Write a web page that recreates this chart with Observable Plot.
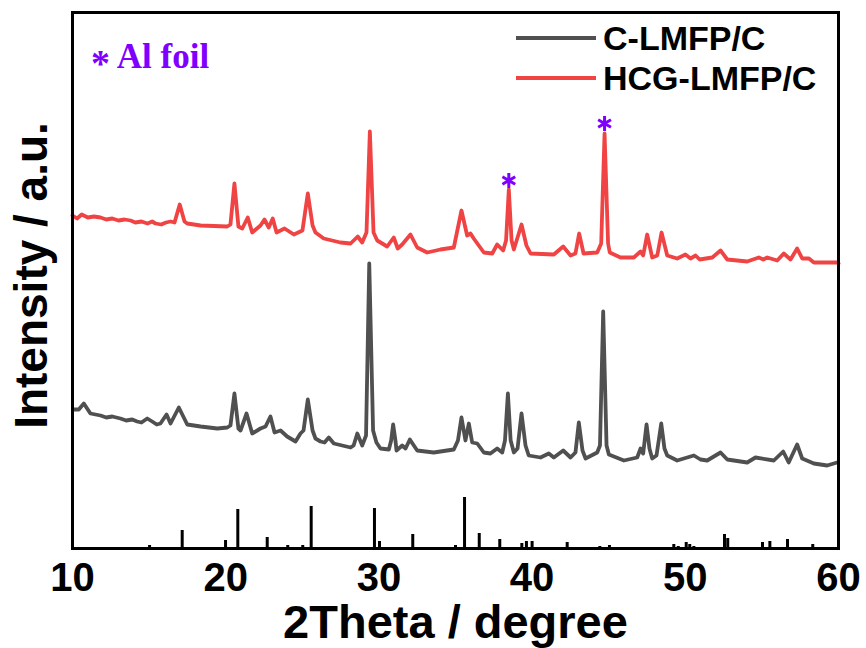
<!DOCTYPE html>
<html>
<head>
<meta charset="utf-8">
<script src="https://cdn.jsdelivr.net/npm/d3@7"></script>
<script src="https://cdn.jsdelivr.net/npm/@observablehq/plot@0.6"></script>
<style>
  html, body { margin: 0; padding: 0; background: #fff; }
  #wrap { position: relative; width: 866px; height: 648px; }
  .ov { position: absolute; white-space: nowrap; }
  .leg { font-family: "Liberation Sans", Arial, sans-serif; font-weight: bold; font-size: 34px; color: #000; line-height: 1; }
  .swatch { position: absolute; height: 4px; width: 80px; }
  .al { font-family: "Liberation Serif", "Times New Roman", serif; font-weight: bold; font-size: 35px; color: #8000ff; line-height: 1; }
</style>
</head>
<body>
<div id="wrap"></div>
<script>
// Series names
const seriesNames = ["C-LMFP/C", "HCG-LMFP/C"];
const seriesColors = ["#505050", "#f04343"];

// C-LMFP/C pattern: 2theta (deg) and intensity (a.u.)
const grayX = [10.05,10.41,10.74,11.17,11.83,12.2,12.6,13.13,13.5,13.9,14.22,14.5,14.88,15.2,15.5,15.74,16.14,16.40,16.94,17.49,18.36,19.45,20.10,20.31,20.57,20.83,20.97,21.36,21.73,22.27,22.60,22.92,23.19,23.58,24.01,24.56,24.88,25.08,25.36,25.67,25.86,26.19,26.45,26.73,27.06,28.15,28.35,28.59,28.91,29.16,29.37,29.62,29.84,30.10,30.65,30.80,30.93,31.08,31.15,31.52,31.74,32.02,32.50,33.58,34.89,35.16,35.39,35.65,35.87,36.09,36.42,36.85,37.28,37.72,38.05,38.23,38.42,38.60,38.81,39.05,39.31,39.57,39.78,40.55,41.09,41.42,42.03,42.51,42.83,43.05,43.29,43.49,44.25,44.43,44.64,44.86,45.01,45.99,46.86,47.08,47.25,47.47,47.66,47.84,48.12,48.43,48.64,48.82,49.47,50.56,50.99,51.43,52.30,52.74,54.04,54.58,55.78,56.39,56.75,57.30,57.63,58.39,59.26,59.91];
const grayY = [139,139,145,135,133,131,132,130,128,129,127,126,130,127,124,125,134,125,141,124,122,120,121,123,155,120,118,135,115,120,122,132,116,118,112,107,115,118,149,118,110,107,106,111,105,101,103,115,103,113,285,118,106,100,99,108,124,108,98,103,100,109,98,96,99,108,131,108,125,106,105,96,95,100,96,108,155,108,96,100,135,103,93,91,95,91,98,91,96,126,98,90,96,103,237,103,94,88,91,100,95,124,100,90,93,125,100,93,88,93,89,88,96,89,86,91,88,97,86,104,90,85,83,86];

// HCG-LMFP/C pattern
const redX = [10.00,10.3,10.6,11.0,11.4,11.83,12.2,12.6,13.0,13.4,13.79,14.1,14.5,14.9,15.2,15.42,15.8,16.1,16.40,16.66,17.00,17.31,17.49,18.36,20.10,20.31,20.57,20.83,21.08,21.44,21.73,22.27,22.53,22.81,23.07,23.32,23.84,24.45,25.01,25.36,25.67,25.86,26.40,27.49,28.15,28.62,28.91,29.19,29.41,29.65,29.89,30.54,30.97,31.23,31.52,32.06,32.50,33.15,34.02,34.89,35.39,35.76,35.98,36.19,36.85,37.40,37.72,38.11,38.30,38.48,38.66,38.81,39.31,39.63,39.90,41.42,42.03,42.51,42.83,43.07,43.36,44.25,44.51,44.73,44.96,45.07,45.77,46.64,47.08,47.25,47.51,47.84,48.17,48.45,48.82,49.47,50.01,50.34,50.67,50.94,51.76,52.30,52.74,54.04,54.80,55.09,55.35,56.00,56.43,56.87,57.30,57.63,58.07,58.39,59.91,60.00];
const redY = [333,330,334,331,332,331,329,330,328,329,328,326,327,325,327,325,324,326,327,326,344,327,325,323,322,324,365,322,320,331,316,323,329,321,330,316,320,314,318,355,323,316,310,306,305,312,306,316,417,316,308,302,311,300,304,314,301,296,299,301,338,313,315,310,296,295,304,298,308,359,308,299,324,303,295,294,302,293,295,315,295,296,305,415,305,296,291,291,297,293,314,291,293,316,293,290,294,290,293,289,291,298,289,287,291,289,291,288,295,289,300,290,290,286,286,285];

// Reference pattern sticks: position and relative height
const stickX = [15.03,17.16,19.99,20.79,22.71,24.05,25.03,25.58,29.71,30.04,32.21,35.00,35.59,36.55,37.89,39.33,39.63,40.00,42.29,44.42,45.05,49.25,49.54,50.06,50.29,50.56,52.56,52.77,55.04,55.52,56.67,58.32];
const stickH = [3,18,8,39,11,3,3,42,40,7,14,3,51,15,9,5,7,7,6,2,3,4,2,6,4,2,14,10,6,7,9,4];

// Al foil markers (asterisks above peaks)
const starX = [38.48, 44.73];
const starY = [368, 425];

const xTicks = [10, 20, 30, 40, 50, 60];
const xTitle = "2Theta / degree";
const yTitle = "Intensity / a.u.";
const alLabel = "Al foil";

const gray = grayX.map((x, i) => ({x, y: grayY[i]}));
const red = redX.map((x, i) => ({x, y: redY[i]}));
const sticks = stickX.map((x, i) => ({x, h: stickH[i]}));
const stars = starX.map((x, i) => ({x, y: starY[i]}));

const chart = Plot.plot({
  width: 866,
  height: 648,
  marginLeft: 72,
  marginRight: 28,
  marginTop: 12,
  marginBottom: 100,
  style: {fontFamily: "'Liberation Sans', Arial, sans-serif", background: "#fff", color: "#000"},
  x: {domain: [10, 60]},
  y: {domain: [0, 536], axis: null},
  marks: [
    Plot.ruleX(sticks, {x: "x", y1: 0, y2: "h", stroke: "#000", strokeWidth: 3}),
    Plot.line(gray, {x: "x", y: "y", stroke: seriesColors[0], strokeWidth: 3.8, strokeLinejoin: "round"}),
    Plot.line(red, {x: "x", y: "y", stroke: seriesColors[1], strokeWidth: 3.8, strokeLinejoin: "round"}),
    Plot.dot(stars, {x: "x", y: "y", symbol: "asterisk", r: 7, stroke: "#8000ff", strokeWidth: 3}),
    Plot.frame({stroke: "#000", strokeWidth: 3}),
    Plot.axisX(xTicks, {tickSize: 0, tickPadding: 14, fontSize: 40, fontWeight: "bold", label: null, tickFormat: d => String(d)}),
    Plot.text([xTitle], {frameAnchor: "bottom", lineAnchor: "middle", textAnchor: "middle", dy: 74, fontSize: 47, fontWeight: "bold", text: d => d}),
    Plot.text([yTitle], {frameAnchor: "left", lineAnchor: "middle", textAnchor: "middle", dx: -40, dy: -5, rotate: -90, fontSize: 46, fontWeight: "bold", text: d => d})
  ]
});

const wrap = document.getElementById("wrap");
wrap.appendChild(chart);

// Legend overlay
function addLegend(i, top) {
  const sw = document.createElement("div");
  sw.className = "swatch";
  sw.style.left = "516px";
  sw.style.top = (top - 2) + "px";
  sw.style.background = seriesColors[i];
  wrap.appendChild(sw);
  const t = document.createElement("div");
  t.className = "ov leg";
  t.style.left = "603px";
  t.style.top = (top - 17) + "px";
  t.textContent = seriesNames[i];
  wrap.appendChild(t);
}
addLegend(0, 38);
addLegend(1, 78);

// Al foil note
const al = document.createElement("div");
al.className = "ov al";
al.style.left = "91px";
al.style.top = "36px";
al.innerHTML = '<span style="position:relative;top:8px;font-size:38px">*</span> ' + alLabel;
wrap.appendChild(al);
</script>
</body>
</html>
